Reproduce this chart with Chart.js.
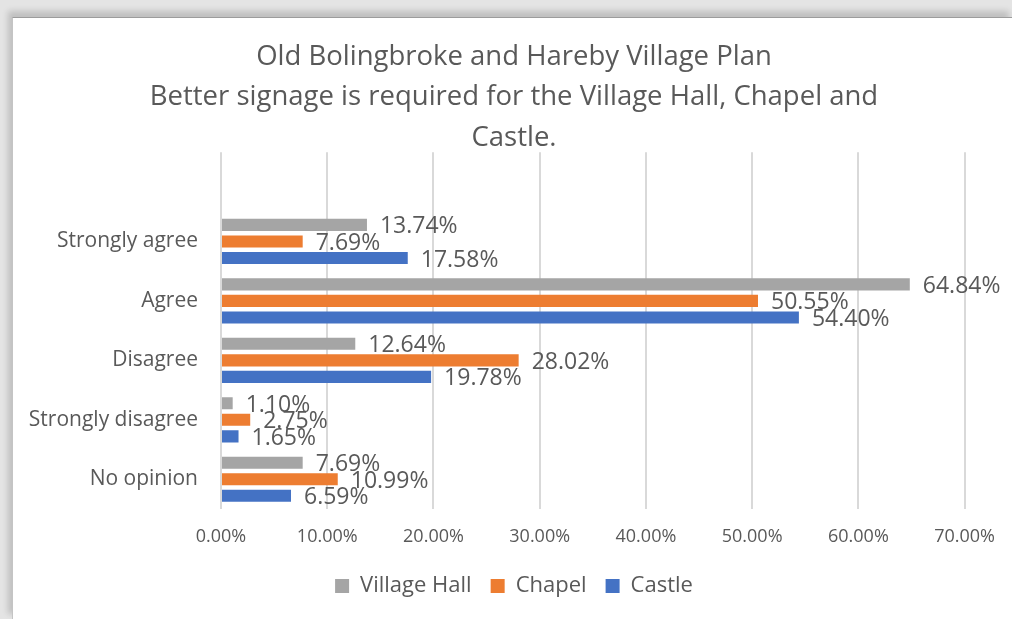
<!DOCTYPE html>
<html>
<head>
<meta charset="utf-8">
<script src="https://cdn.jsdelivr.net/npm/chart.js@4.4.1/dist/chart.umd.min.js"></script>
<style>
  html, body { margin: 0; padding: 0; width: 1012px; height: 619px; overflow: hidden; background: #e4e4e4; }
  #frame { position: absolute; left: 12px; top: 17px; width: 1000px; height: 602px; background: #ffffff;
           border-top: 1px solid #9c9c9c; border-left: 1px solid #c4c4c4;
           box-shadow: -4px -6px 6px rgba(0,0,0,0.16); }
  #wrap { position: absolute; left: 0; top: 0; width: 1012px; height: 619px; }
</style>
</head>
<body>
<div id="frame"></div>
<div id="wrap"><canvas id="c" width="1012" height="619"></canvas></div>
<script>
// ---- data ----
const categories = ["Strongly agree", "Agree", "Disagree", "Strongly disagree", "No opinion"];
const villageHall = [13.74, 64.84, 12.64, 1.10, 7.69];
const chapel      = [7.69, 50.55, 28.02, 2.75, 10.99];
const castle      = [17.58, 54.40, 19.78, 1.65, 6.59];
const seriesNames = ["Village Hall", "Chapel", "Castle"];
const xTicks = [0, 10, 20, 30, 40, 50, 60, 70];
const titleLines = ["Old Bolingbroke and Hareby Village Plan",
                    "Better signage is required for the Village Hall, Chapel and",
                    "Castle."];

// an empty top row (blank category) as in the source sheet
const labels = [""].concat(categories);
const pad = arr => [null].concat(arr);

const colors = ["#a5a5a5", "#ed7d31", "#4472c4"];
const textColor = "#595959";
const FONT = "'Open Sans', 'DejaVu Sans', sans-serif";

const dataLabelPlugin = {
  id: 'dataLabels',
  afterDatasetsDraw(chart) {
    const ctx = chart.ctx;
    ctx.save();
    ctx.font = "23px " + FONT;
    ctx.fillStyle = textColor;
    ctx.textAlign = "left";
    ctx.textBaseline = "middle";
    chart.data.datasets.forEach((ds, di) => {
      const meta = chart.getDatasetMeta(di);
      meta.data.forEach((bar, i) => {
        const v = ds.data[i];
        if (v === null || v === undefined) return;
        ctx.fillText(v.toFixed(2) + "%", bar.x + 13, bar.y + 2);
      });
    });
    ctx.restore();
  }
};

new Chart(document.getElementById('c'), {
  type: 'bar',
  data: {
    labels: labels,
    datasets: [
      { label: seriesNames[0], data: pad(villageHall), backgroundColor: colors[0] },
      { label: seriesNames[1], data: pad(chapel), backgroundColor: colors[1] },
      { label: seriesNames[2], data: pad(castle), backgroundColor: colors[2] }
    ]
  },
  options: {
    indexAxis: 'y',
    responsive: false,
    animation: false,
    devicePixelRatio: 1,
    categoryPercentage: 0.835,
    barPercentage: 0.73,
    layout: { padding: { left: 16, right: 0, top: 0, bottom: 12 } },
    scales: {
      x: {
        min: 0, max: 70,
        afterBuildTicks: s => { s.ticks = xTicks.map(v => ({ value: v })); },
        ticks: { color: textColor, font: { family: FONT, size: 18 }, padding: 17,
                 callback: v => Number(v).toFixed(2) + "%" },
        grid: { color: "#d9d9d9", lineWidth: 2, drawTicks: false },
        border: { display: false },
        afterFit: s => { s.height = 47; }
      },
      y: {
        ticks: { color: textColor, font: { family: FONT, size: 21 }, padding: 23 },
        grid: { display: false, drawTicks: false },
        border: { display: false },
        afterFit: s => { s.width = 205; }
      },
      yRight: {
        type: 'category', position: 'right', display: true,
        ticks: { display: false },
        grid: { display: false, drawTicks: false },
        border: { display: false },
        afterFit: s => { s.width = 47; }
      }
    },
    plugins: {
      title: {
        display: true, text: titleLines, color: textColor,
        font: { family: FONT, size: 27.5, weight: 'normal', lineHeight: 1.47 },
        padding: { top: 37, bottom: -6 }
      },
      legend: {
        position: 'bottom',
        labels: { color: textColor, font: { family: FONT, size: 22 }, boxWidth: 14, boxHeight: 14, padding: 19 }
      },
      tooltip: { enabled: false }
    }
  },
  plugins: [dataLabelPlugin]
});
</script>
</body>
</html>
